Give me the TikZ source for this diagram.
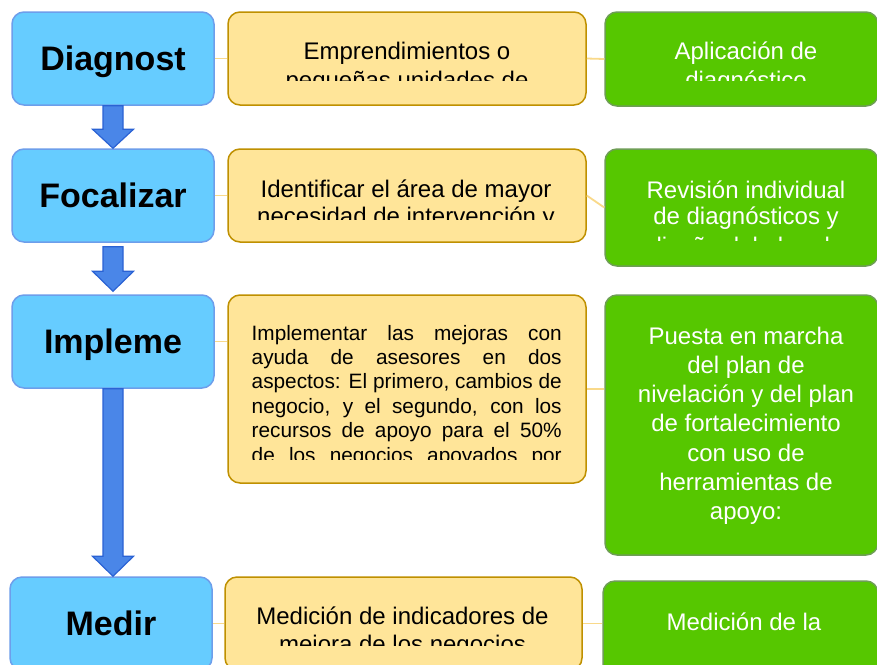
\documentclass[tikz,border=0pt]{standalone}
\usepackage{fontspec}
\setmainfont{Liberation Sans}
\usetikzlibrary{calc}
\definecolor{bluefill}{HTML}{66CCFF}
\definecolor{blueline}{HTML}{6D9EEB}
\definecolor{arrowfill}{HTML}{4A86E8}
\definecolor{arrowline}{HTML}{2A62D4}
\definecolor{yelfill}{HTML}{FFE599}
\definecolor{yelline}{HTML}{BF9000}
\definecolor{grnfill}{HTML}{56C700}
\definecolor{grnline}{HTML}{6E9E55}
\definecolor{linkcol}{HTML}{F9D98A}
\begin{document}
\begin{tikzpicture}[x=1pt,y=-1pt,
  bluebox/.style={draw=blueline, fill=bluefill, line width=1.5pt, rounded corners=12pt,
    minimum width=202pt, minimum height=93pt, inner sep=0pt,
    font=\fontsize{34}{40}\selectfont\bfseries, text height=24.4pt, text depth=0pt},
  yelbox/.style={draw=yelline, fill=yelfill, line width=1.5pt, rounded corners=12pt, inner sep=0pt},
  grnbox/.style={draw=grnline, fill=grnfill, line width=1.5pt, rounded corners=12pt, inner sep=0pt},
  ytext/.style={anchor=base, inner sep=0pt, font=\fontsize{24}{28}\selectfont, text=black},
  gtext/.style={anchor=base, inner sep=0pt, font=\fontsize{24}{28}\selectfont, text=white},
  link/.style={draw=linkcol, line width=1.8pt},
  blockarrow/.style={fill=arrowfill, draw=arrowline, line width=1.2pt, line join=miter}
]
\clip (0,0) rectangle (877,664);
\fill[white] (0,0) rectangle (877,664);

% left column
\node[bluebox] (d1) at (113,58.5) {Diagnost};
\node[bluebox] (d2) at (113,195.5) {Focalizar};
\node[bluebox] (d3) at (113,341.5) {Impleme};
\node[bluebox] (d4) at (111,623.5) {Medir};

% middle column
\node[yelbox, minimum width=358pt, minimum height=93pt] (e1) at (407,58.5) {};
\node[yelbox, minimum width=358pt, minimum height=93pt] (e2) at (407,195.5) {};
\node[yelbox, minimum width=358pt, minimum height=188pt] (e3) at (407,389) {};
\node[yelbox, minimum width=357pt, minimum height=93pt] (e4) at (403.5,623.5) {};

% right column
\node[grnbox, minimum width=273pt, minimum height=94pt] (f1) at (741.5,59) {};
\node[grnbox, minimum width=273pt, minimum height=117pt] (f2) at (741.5,207.5) {};
\node[grnbox, minimum width=273pt, minimum height=260pt] (f3) at (741.5,425) {};
\node[grnbox, minimum width=275pt, minimum height=98pt] (f4) at (740.5,630) {};

% block arrows
\coordinate (tip3) at (d3.south |- d4.north);
\draw[blockarrow] ($(d1.south)+(-10,0)$) -- ($(d2.north)+(-10,-19)$) -- ($(d2.north)+(-20.5,-19)$)
  -- (d2.north) -- ($(d2.north)+(20.5,-19)$) -- ($(d2.north)+(10,-19)$) -- ($(d1.south)+(10,0)$) -- cycle;
\draw[blockarrow] ($(d2.south)+(-10,4)$) -- ($(d3.north)+(-10,-23)$) -- ($(d3.north)+(-20.5,-23)$)
  -- ($(d3.north)+(0,-3)$) -- ($(d3.north)+(20.5,-23)$) -- ($(d3.north)+(10,-23)$) -- ($(d2.south)+(10,4)$) -- cycle;
\draw[blockarrow] ($(d3.south)+(-10,0)$) -- ($(tip3)+(-10,-20)$) -- ($(tip3)+(-20.5,-20)$)
  -- (tip3) -- ($(tip3)+(20.5,-20)$) -- ($(tip3)+(10,-20)$) -- ($(d3.south)+(10,0)$) -- cycle;

% links
\draw[link] (d1.east) -- (e1.west);
\draw[link] (e1.east) -- (f1.west);
\draw[link] (d2.east) -- (e2.west);
\draw[link] (e2.east) -- (f2.west);
\draw[link] (d3.east) -- (d3.east -| e3.west);
\draw[link] (e3.east) -- (e3.east -| f3.west);
\draw[link] (d4.east) -- (e4.west);
\draw[link] (e4.east) -- (e4.east -| f4.west);

% texts, clipped to their text areas
\begin{scope}
  \clip (228,0) rectangle (586,80.5);
  \node[ytext] (e1a) at (407,59) {Emprendimientos o};
  \node[ytext] (e1b) at (407,88) {pequeñas unidades de};
\end{scope}
\begin{scope}
  \clip (228,140) rectangle (586,219);
  \node[ytext] (e2a) at (406,197) {Identificar el área de mayor};
  \node[ytext] (e2b) at (406,224) {necesidad de intervención y};
\end{scope}
\begin{scope}
  \clip (228,290) rectangle (586,459.5);
  \node[anchor=base west, inner sep=0pt, text=black] (e3t) at (251.5,340)
    {\vtop{\hsize=310pt \fontsize{20.8}{24.4}\selectfont \parindent=0pt \parfillskip=0pt
     Implementar las mejoras con\linebreak
     ayuda de asesores en dos\linebreak
     aspectos: El primero, cambios de\linebreak
     negocio, y el segundo, con los\linebreak
     recursos de apoyo para el 50\%\linebreak
     de los negocios apoyados por}};
\end{scope}
\begin{scope}
  \clip (220,570) rectangle (586,645);
  \node[ytext] (e4a) at (402.5,624) {Medición de indicadores de};
  \node[ytext] (e4b) at (402.5,652) {mejora de los negocios};
\end{scope}
\begin{scope}
  \clip (605,0) rectangle (878,80);
  \node[gtext] (f1a) at (746,59.3) {Aplicación de};
  \node[gtext] (f1b) at (746,88) {diagnóstico};
\end{scope}
\begin{scope}
  \clip (605,140) rectangle (878,240);
  \node[gtext] (f2a) at (746,198.5) {Revisión individual};
  \node[gtext] (f2b) at (746,224.5) {de diagnósticos y};
  \node[gtext] (f2c) at (746,254.5) {diseño del plan de};
\end{scope}
\node[anchor=base, inner sep=0pt, text=white] (f3t) at (746,344)
  {\vtop{\hsize=273pt \fontsize{24}{29.3}\selectfont \centering
   Puesta en marcha\\ del plan de\\ nivelación y del plan\\ de fortalecimiento\\
   con uso de\\ herramientas de\\ apoyo:\par}};
\node[gtext] (f4a) at (744,630.5) {Medición de la};
\end{tikzpicture}
\end{document}
